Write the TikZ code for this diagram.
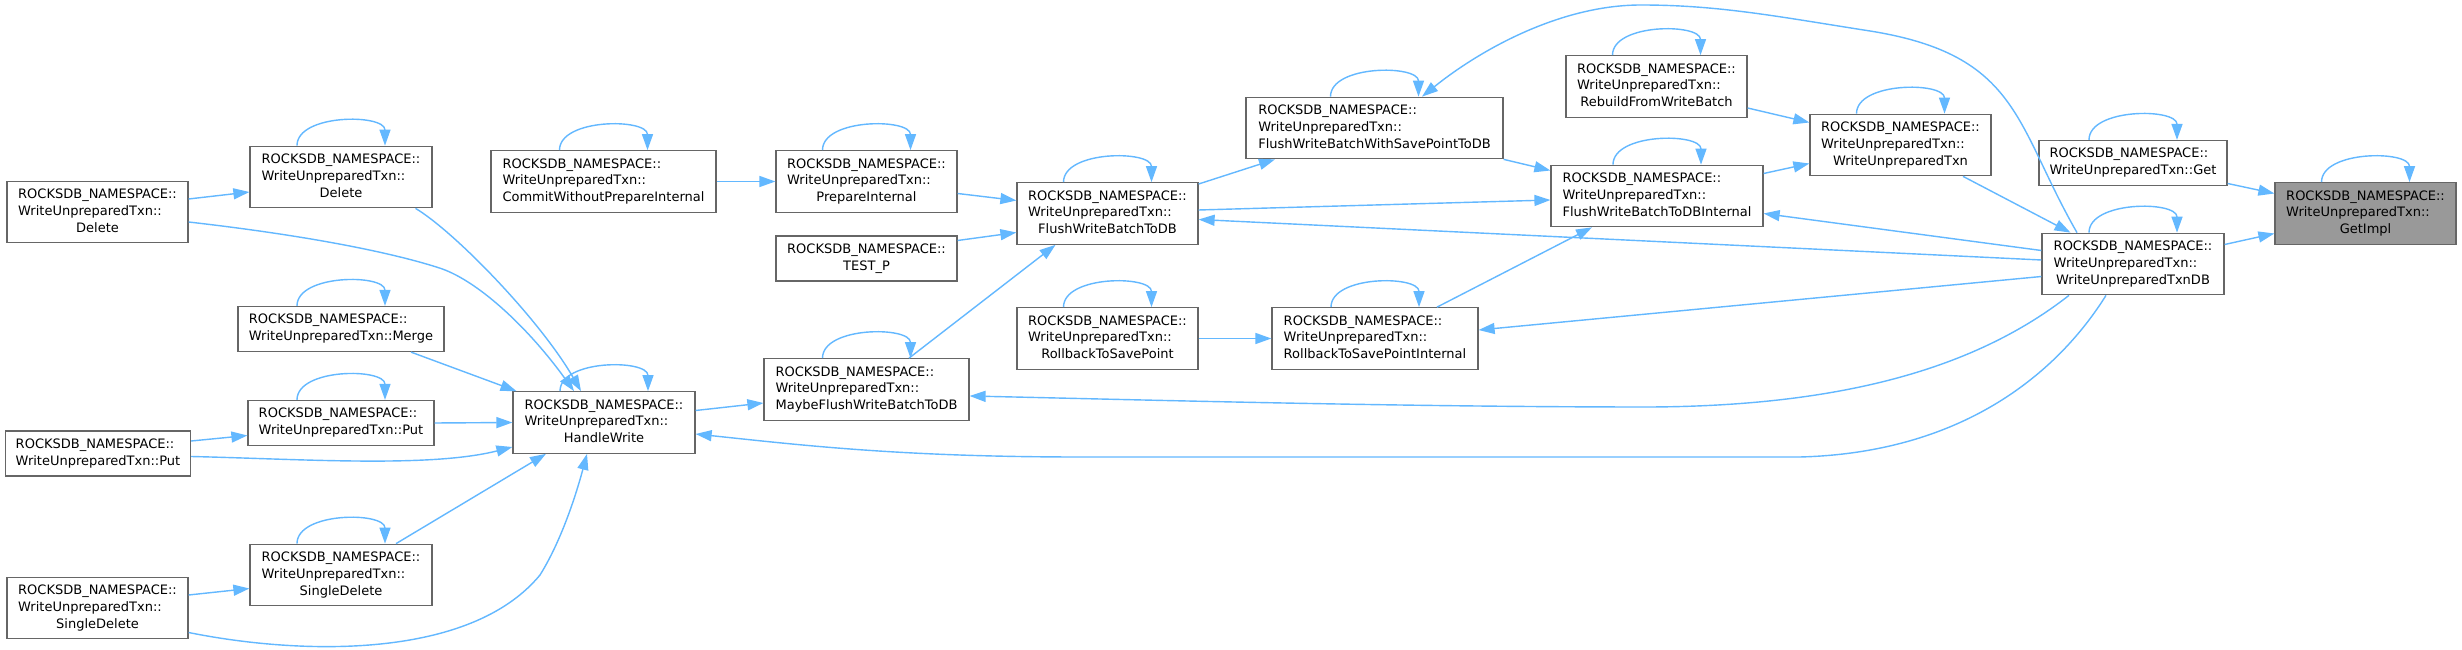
\documentclass[tikz,border=0pt]{standalone}
\usepackage{fontspec}
\setmainfont{DejaVu Sans}
\usetikzlibrary{arrows.meta}
\definecolor{edgeblue}{HTML}{63B8FF}
\definecolor{boxgray}{HTML}{666666}
\definecolor{focusgray}{HTML}{999999}
\newcommand{\fnlong}[2]{\begin{tabular}{@{}l@{}}ROCKSDB\_NAMESPACE::\\#1\\\multicolumn{1}{@{}c@{}}{#2}\end{tabular}}
\newcommand{\fnshort}[1]{\begin{tabular}{@{}l@{}}ROCKSDB\_NAMESPACE::\\#1\end{tabular}}
\begin{document}
\begin{tikzpicture}[every node/.style={font=\fontsize{7.4pt}{9.5pt}\selectfont},
  fn/.style={draw=boxgray,fill=white,line width=0.7pt,inner sep=0pt,minimum height=1.23cm},
  fnsmall/.style={fn,minimum height=0.9cm},
  call/.style={draw=edgeblue,line width=0.8pt,-{Triangle[length=0.32cm,width=0.22cm]}}]
\path[use as bounding box,fill=white] (0,0) rectangle (49.24,-13.0);
% callers on the left
\node[fn,minimum width=3.62cm] (delL) at (1.95,-4.24) {\fnlong{WriteUnpreparedTxn::}{Delete}};
\node[fnsmall,minimum width=3.70cm] (putL) at (1.96,-9.07) {\fnshort{WriteUnpreparedTxn::Put}};
\node[fn,minimum width=3.62cm] (sdL) at (1.95,-12.16) {\fnlong{WriteUnpreparedTxn::}{SingleDelete}};
\node[fn,minimum width=3.64cm] (delTxn) at (6.82,-3.54) {\fnlong{WriteUnpreparedTxn::}{Delete}};
\node[fnsmall,minimum width=4.12cm] (merge) at (6.82,-6.58) {\fnshort{WriteUnpreparedTxn::Merge}};
\node[fnsmall,minimum width=3.72cm] (txnPut) at (6.82,-8.46) {\fnshort{WriteUnpreparedTxn::Put}};
\node[fn,minimum width=3.64cm] (txnSD) at (6.82,-11.50) {\fnlong{WriteUnpreparedTxn::}{SingleDelete}};
\node[fn,minimum width=4.50cm] (commitWO) at (12.07,-3.63) {\fnlong{WriteUnpreparedTxn::}{CommitWithoutPrepareInternal}};
\node[fn,minimum width=3.64cm] (handleW) at (12.08,-8.45) {\fnlong{WriteUnpreparedTxn::}{HandleWrite}};
% middle
\node[fn,minimum width=3.62cm] (prepInt) at (17.33,-3.63) {\fnlong{WriteUnpreparedTxn::}{PrepareInternal}};
\node[fnsmall,minimum width=3.62cm,align=center] (testP) at (17.33,-5.17) {ROCKSDB\_NAMESPACE::\\TEST\_P};
\node[fn,minimum width=4.10cm] (maybeF) at (17.33,-7.79) {\fnlong{WriteUnpreparedTxn::}{MaybeFlushWriteBatchToDB}};
\node[fn,minimum width=3.62cm] (fwbToDB) at (22.15,-4.27) {\fnlong{WriteUnpreparedTxn::}{FlushWriteBatchToDB}};
\node[fn,minimum width=3.62cm] (rtsp) at (22.15,-6.77) {\fnlong{WriteUnpreparedTxn::}{RollbackToSavePoint}};
\node[fn,minimum width=5.14cm] (fwbWSP) at (27.49,-2.56) {\fnlong{WriteUnpreparedTxn::}{FlushWriteBatchWithSavePointToDB}};
\node[fn,minimum width=4.12cm] (rtspInt) at (27.50,-6.77) {\fnlong{WriteUnpreparedTxn::}{RollbackToSavePointInternal}};
% right side
\node[fn,minimum width=3.62cm] (rebuild) at (33.13,-1.73) {\fnlong{WriteUnpreparedTxn::}{RebuildFromWriteBatch}};
\node[fn,minimum width=4.24cm] (fwbInt) at (33.14,-3.92) {\fnlong{WriteUnpreparedTxn::}{FlushWriteBatchToDBInternal}};
\node[fn,minimum width=3.62cm] (wuTxn) at (38.01,-2.90) {\fnlong{WriteUnpreparedTxn::}{WriteUnpreparedTxn}};
\node[fnsmall,minimum width=3.76cm] (get) at (42.66,-3.26) {\fnshort{WriteUnpreparedTxn::Get}};
\node[fn,minimum width=3.64cm] (wuTxnDB) at (42.66,-5.28) {\fnlong{WriteUnpreparedTxn::}{WriteUnpreparedTxnDB}};
\node[fn,fill=focusgray,minimum width=3.62cm] (getImpl) at (47.31,-4.27) {\fnlong{WriteUnpreparedTxn::}{GetImpl}};
% recursive calls
\foreach \nd in {delTxn,commitWO,merge,txnPut,handleW,txnSD,prepInt,fwbToDB,fwbWSP,rtsp,rtspInt,maybeF,rebuild,fwbInt,wuTxn,get,wuTxnDB,getImpl}
  \draw[call] ([xshift=-0.88cm]\nd.north) .. controls +(0,0.64) and +(0,0.64) .. ([xshift=0.88cm]\nd.north);
% into HandleWrite
\draw[call] ([yshift=0.26cm]delL.east) -- ([yshift=-0.3cm]delTxn.west);
\draw[call] ([yshift=-0.2cm]delL.east) .. controls (6.4,-4.74) and (8.0,-5.1) .. (8.82,-5.37) .. controls (9.6,-5.64) and (10.6,-6.6) .. ([xshift=-0.6cm]handleW.north);
\draw[call] ([xshift=1.49cm]delTxn.south) .. controls (9.1,-4.64) and (10.8,-6.4) .. ([xshift=-0.46cm]handleW.north);
\draw[call] ([xshift=1.4cm]merge.south) -- ([xshift=-1.75cm]handleW.north);
\draw[call] (txnPut.east) -- (handleW.west);
\draw[call] ([yshift=0.25cm]putL.east) -- ([yshift=-0.25cm]txnPut.west);
\draw[call] ([yshift=-0.06cm]putL.east) .. controls (6.0,-9.18) and (8.6,-9.36) .. ([yshift=-0.49cm]handleW.west);
\draw[call] ([xshift=1.1cm]txnSD.north) -- ([xshift=-1.16cm]handleW.south);
\draw[call] ([yshift=0.26cm]sdL.east) -- ([yshift=-0.27cm]txnSD.west);
\draw[call] ([yshift=-0.49cm]sdL.east) .. controls (6.0,-13.1) and (9.4,-13.2) .. (10.8,-11.5) .. controls (11.3,-10.7) and (11.6,-9.6) .. ([xshift=-0.34cm]handleW.south);
\draw[call] ([yshift=0.24cm]handleW.east) -- ([yshift=-0.27cm]maybeF.west);
\draw[call] ([xshift=-0.54cm]wuTxnDB.south) .. controls (41.5,-6.9) and (39.8,-9.04) .. (36.0,-9.14) -- (21.6,-9.14) .. controls (18.0,-9.14) and (16.0,-8.9) .. ([yshift=-0.23cm]handleW.east);
\draw[call] ([xshift=-1.28cm]wuTxnDB.south) .. controls (39.6,-7.3) and (37.0,-8.12) .. (33.0,-8.14) .. controls (28.0,-8.14) and (23.0,-8.0) .. ([yshift=-0.13cm]maybeF.east);
% flush chain
\draw[call] ([xshift=0.85cm]maybeF.north) -- ([xshift=-1.04cm]fwbToDB.south);
\draw[call] (commitWO.east) -- (prepInt.west);
\draw[call] ([yshift=-0.24cm]prepInt.east) -- ([yshift=0.26cm]fwbToDB.west);
\draw[call] ([yshift=0.36cm]testP.east) -- ([yshift=-0.38cm]fwbToDB.west);
\draw[call] ([yshift=0.59cm]fwbToDB.east) -- ([xshift=-1.99cm]fwbWSP.south);
\draw[call] ([yshift=0.07cm]fwbToDB.east) -- ([yshift=-0.08cm]fwbInt.west);
\draw[call] ([yshift=0.08cm]wuTxnDB.west) -- ([yshift=-0.12cm]fwbToDB.east);
\draw[call] (fwbWSP.south east) -- ([yshift=0.51cm]fwbInt.west);
\draw[call] ([xshift=-1.12cm]wuTxnDB.north) .. controls (40.3,-2.5) and (40.4,-1.1) .. (37.4,-0.62) .. controls (35.6,-0.34) and (34.4,-0.1) .. (32.82,-0.1) .. controls (31.2,-0.1) and (29.6,-1.0) .. ([xshift=0.95cm]fwbWSP.north);
\draw[call] (rtsp.east) -- (rtspInt.west);
\draw[call] ([xshift=1.24cm]rtspInt.north) -- ([xshift=-1.3cm]fwbInt.south);
\draw[call] ([yshift=-0.25cm]wuTxnDB.west) -- ([yshift=0.17cm]rtspInt.east);
\draw[call] ([yshift=0.27cm]wuTxnDB.west) -- ([yshift=-0.35cm]fwbInt.east);
\draw[call] ([yshift=0.45cm]fwbInt.east) -- ([yshift=-0.37cm]wuTxn.west);
\draw[call] ([yshift=-0.43cm]rebuild.east) -- ([yshift=0.45cm]wuTxn.west);
\draw[call] ([xshift=1.25cm]wuTxn.south) -- ([xshift=-1.25cm]wuTxnDB.north);
% into GetImpl
\draw[call] ([yshift=-0.41cm]get.east) -- ([yshift=0.4cm]getImpl.west);
\draw[call] ([yshift=0.39cm]wuTxnDB.east) -- ([yshift=-0.4cm]getImpl.west);
\end{tikzpicture}
\end{document}
